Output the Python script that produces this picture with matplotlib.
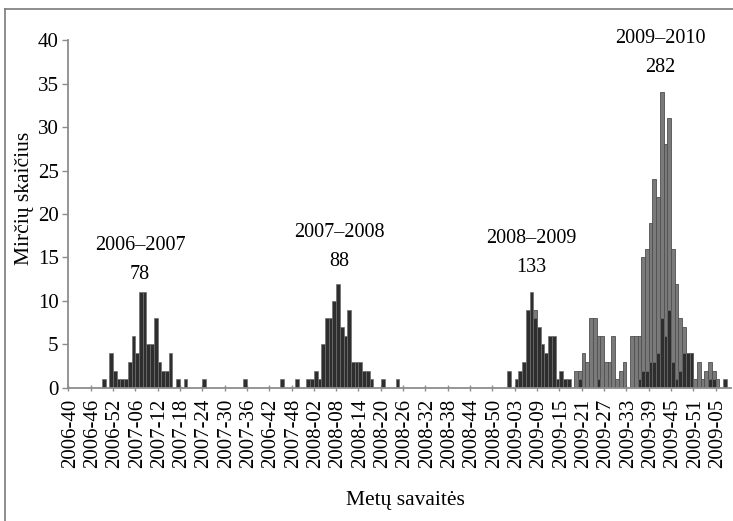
import matplotlib
matplotlib.use("Agg")
import numpy as np
import matplotlib.pyplot as plt
from matplotlib.lines import Line2D

plt.rcParams["font.family"] = ["Liberation Serif", "DejaVu Serif"]

N_WEEKS = 178

# weekly deaths, index 0 = week 2006-40
dark_weeks = [9, 11, 12, 13, 14, 15, 16, 17, 18, 19, 20, 21, 22, 23, 24, 25, 26, 27, 29, 31, 36, 47,
              57, 61, 64, 65, 66, 67, 68, 69, 70, 71, 72, 73, 74, 75, 76, 77, 78, 79, 80, 81, 84, 88,
              118, 120, 121, 122, 123, 124, 125, 126, 127, 128, 129, 130, 131, 132, 133, 134,
              137, 142, 153, 154, 155, 156, 157, 158, 159, 160, 161, 162, 163, 164, 165, 166, 167,
              172, 173, 176]
dark_vals = [1, 4, 2, 1, 1, 1, 3, 6, 4, 11, 11, 5, 5, 8, 3, 2, 2, 4, 1, 1, 1, 1,
             1, 1, 1, 1, 2, 1, 5, 8, 8, 10, 12, 7, 6, 9, 3, 3, 3, 2, 2, 1, 1, 1,
             2, 1, 2, 3, 9, 11, 8, 7, 5, 4, 6, 6, 1, 2, 1, 1,
             1, 1, 1, 2, 2, 3, 3, 4, 8, 6, 9, 3, 1, 2, 4, 4, 4,
             1, 1, 1]

grey_weeks = [125, 136, 137, 138, 139, 140, 141, 142, 143, 144, 145, 146, 147, 148, 149,
              151, 152, 153, 154, 155, 156, 157, 158, 159, 160, 161, 162, 163, 164, 165,
              166, 167, 168, 169, 170, 171, 172, 173, 174]
grey_vals = [9, 2, 2, 4, 3, 8, 8, 6, 6, 3, 3, 6, 1, 2, 3,
             6, 6, 6, 15, 16, 19, 24, 22, 34, 28, 31, 16, 12, 8, 7,
             4, 4, 1, 3, 1, 2, 3, 2, 1]

tick_labels = ["2006-40", "2006-46", "2006-52", "2007-06", "2007-12", "2007-18",
               "2007-24", "2007-30", "2007-36", "2006-42", "2007-48", "2008-02",
               "2008-08", "2008-14", "2008-20", "2008-26", "2008-32", "2008-38",
               "2008-44", "2008-50", "2009-03", "2009-09", "2009-15", "2009-21",
               "2009-27", "2009-33", "2009-39", "2009-45", "2009-51", "2009-05"]

seasons = ["2006\u20132007", "2007\u20132008", "2008\u20132009", "2009\u20132010"]
season_totals = ["78", "88", "133", "282"]

fig = plt.figure(figsize=(7.33, 5.21), dpi=100)
ax = fig.add_axes([0.0932, 0.2553, 0.9034, 0.6679])

ax.bar(np.array(grey_weeks) + 0.5, grey_vals, width=1.0, color="#7a7a7a",
       edgecolor="#505050", linewidth=0.6, zorder=2)
ax.bar(np.array(dark_weeks) + 0.5, dark_vals, width=1.0, color="#2e2e2e",
       edgecolor="#6e6e6e", linewidth=0.5, zorder=3)

ax.set_xlim(0, N_WEEKS)
ax.set_ylim(0, 40)
ax.set_yticks(range(0, 41, 5))
ax.tick_params(axis="y", labelsize=15, length=4, width=1, color="#8c8c8c", pad=3)

pos = [6 * k + 0.5 for k in range(len(tick_labels))]
ax.set_xticks(pos)
ax.set_xticklabels(tick_labels, rotation=90, fontsize=15)
ax.tick_params(axis="x", length=0, pad=8)
ax.set_xticks([6 * k for k in range(len(tick_labels))], minor=True)
ax.tick_params(axis="x", which="minor", length=5, width=1, color="#8c8c8c", direction="inout")

for side in ["top", "right"]:
    ax.spines[side].set_visible(False)
for side in ["left", "bottom"]:
    ax.spines[side].set_color("#8c8c8c")
    ax.spines[side].set_linewidth(1.3)
    ax.spines[side].set_zorder(4)

# season captions
label_pos = [(19.3, 16.4, 13.0), (72.8, 17.9, 14.5), (124.5, 17.2, 13.8), (159.2, 40.2, 36.8)]
for (xs, y1, y2), name, total in zip(label_pos, seasons, season_totals):
    ax.text(xs, y1, name, ha="center", va="center", fontsize=14.5, clip_on=False)
    ax.text(xs, y2, total, ha="center", va="center", fontsize=14.5, clip_on=False)

fig.text(24 / 733, 1 - 198 / 521, "Mirčių skaičius", rotation=90,
         ha="center", va="center", fontsize=15.5)
fig.text(405 / 733, 1 - 500 / 521, "Metų savaitės", ha="center", va="center", fontsize=15.5)

# thin frame round the figure (only top and left edges are visible)
fig.add_artist(Line2D([5 / 733, 5 / 733], [0, 1 - 9 / 521], transform=fig.transFigure,
                      color="#7a7a7a", linewidth=1.2))
fig.add_artist(Line2D([5 / 733, 1], [1 - 9 / 521, 1 - 9 / 521], transform=fig.transFigure,
                      color="#7a7a7a", linewidth=1.2))

fig.savefig("out.png", dpi=100)
